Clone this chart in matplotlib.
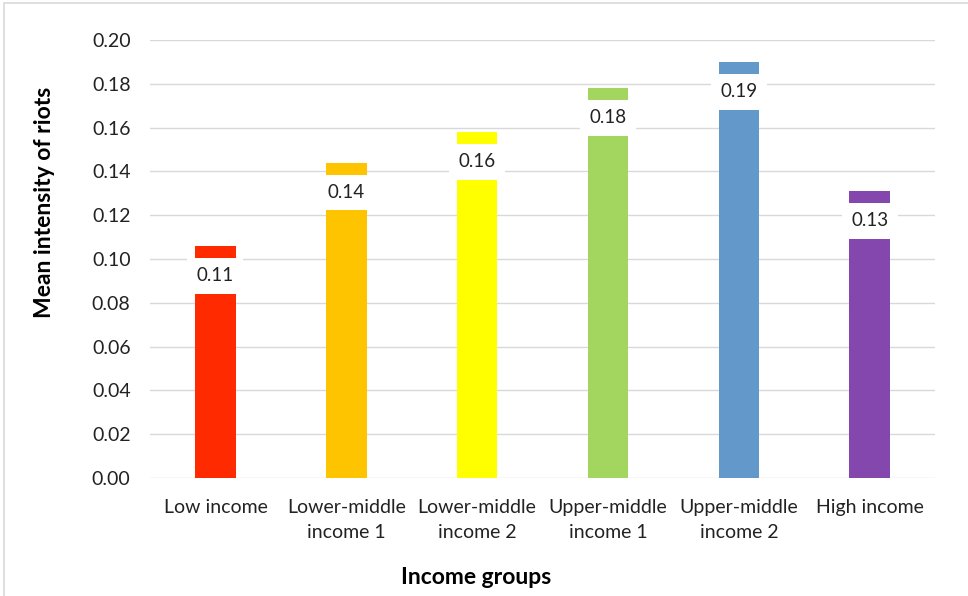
import matplotlib.pyplot as plt
import numpy as np

groups = ['Low income', 'Lower-middle\nincome 1', 'Lower-middle\nincome 2',
          'Upper-middle\nincome 1', 'Upper-middle\nincome 2', 'High income']
values = [0.106, 0.144, 0.158, 0.178, 0.190, 0.131]
labels = ['0.11', '0.14', '0.16', '0.18', '0.19', '0.13']
colors = ['#FF2A00', '#FFC400', '#FFFF00', '#A3D65F', '#6398CA', '#8447AE']
yticks = np.arange(0, 0.201, 0.02)

plt.rcParams['font.family'] = ['Lato', 'DejaVu Sans']

fig = plt.figure(figsize=(9.68, 5.96), dpi=100)
ax = fig.add_axes([0.155, 0.198, 0.811, 0.735])

x = np.arange(len(groups))
ax.bar(x, values, width=0.31, color=colors, zorder=2)

for xi, v, lab in zip(x, values, labels):
    ax.annotate(lab, (xi, v), xytext=(0, -21.5), textcoords='offset points',
                ha='center', va='center', fontsize=13.5, color='#222222', zorder=3,
                bbox=dict(boxstyle='square,pad=0.5', fc='white', ec='none'))

ax.set_ylim(0, 0.2)
ax.set_xlim(-0.5, len(groups) - 0.5)
ax.set_yticks(yticks)
ax.set_yticklabels([f'{t:.2f}' for t in yticks])
ax.set_xticks(x)
ax.set_xticklabels(groups, linespacing=1.6)
ax.tick_params(axis='both', length=0, labelsize=14, colors='#222222')
ax.tick_params(axis='x', pad=15)
ax.tick_params(axis='y', pad=14)
ax.grid(axis='y', color='#D9D9D9', linewidth=1, zorder=0)
for s in ax.spines.values():
    s.set_visible(False)

ax.set_xlabel('Income groups', fontsize=16.5, fontweight='bold', va='center')
ax.set_ylabel('Mean intensity of riots', fontsize=16.5, fontweight='bold', va='center')
ax.xaxis.set_label_coords(0.415, -0.228)
ax.yaxis.set_label_coords(-0.134, 0.63)

fig.patches.append(plt.Rectangle((0.004, -0.01), 1.1, 1.005, transform=fig.transFigure,
                                 fill=False, ec='#D9D9D9', lw=1.2))

fig.savefig('out.png', dpi=100)
